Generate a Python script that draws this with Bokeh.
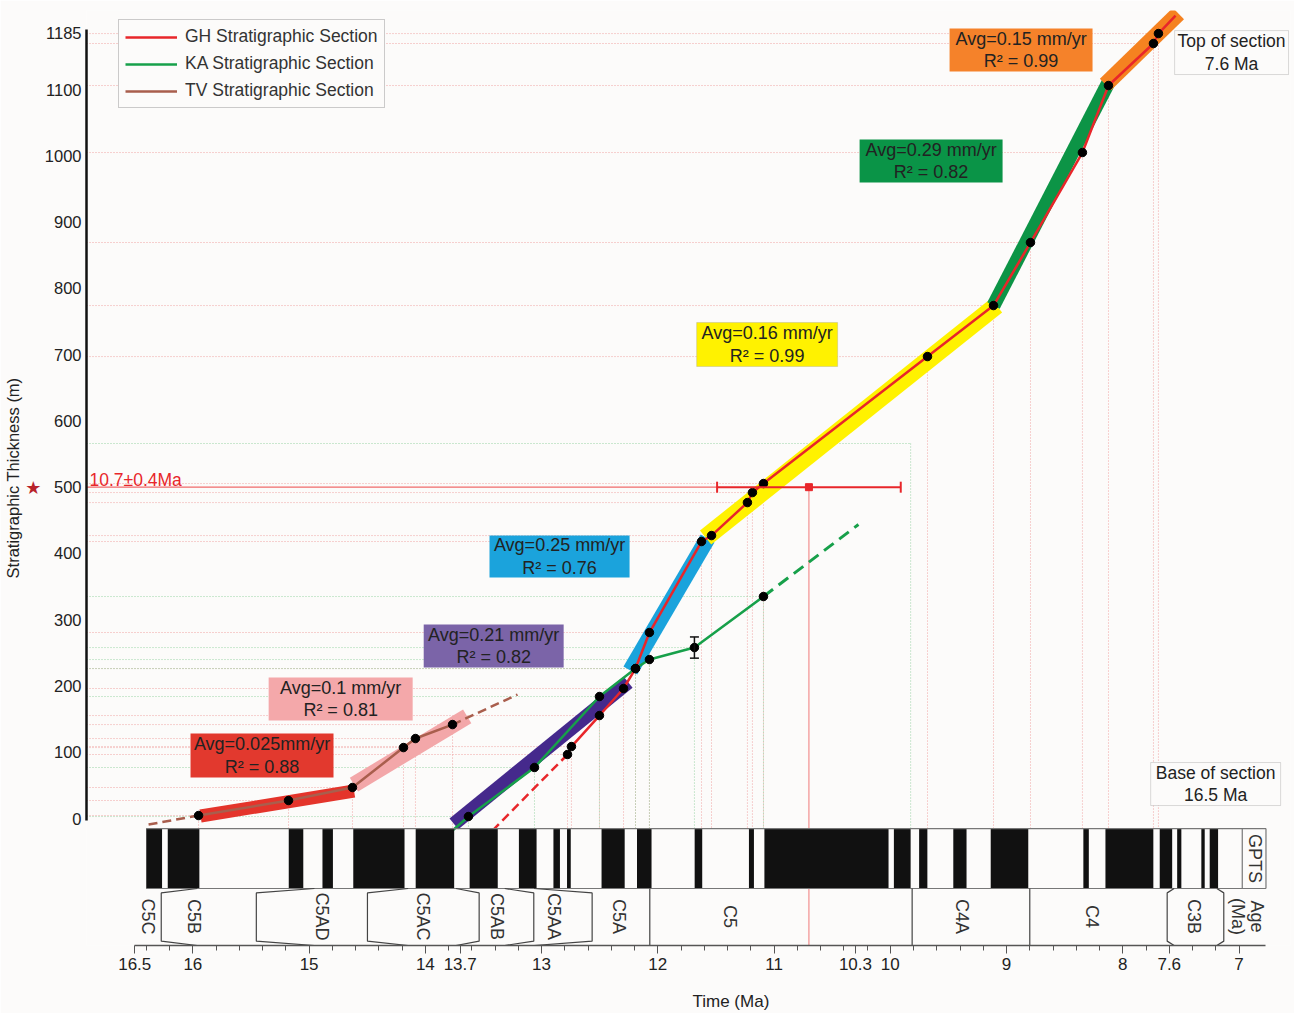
import math
from bokeh.plotting import figure
from bokeh.models import (Range1d, FixedTicker, Label, BoxAnnotation, Legend, LegendItem,
                          LinearAxis, Title)
from bokeh.embed import file_html
from bokeh.resources import INLINE

# ---------------- data (age in Ma, thickness in m) ----------------
gh_age = [12.777, 12.743, 12.502, 12.295, 12.192, 12.072, 11.624, 11.538, 11.229, 11.186,
          11.091, 9.680, 9.112, 8.794, 8.347, 8.123, 7.736, 7.693]
gh_thk = [96.6, 108.6, 155.4, 196.2, 226.3, 280.7, 418.0, 427.0, 476.8, 491.9,
          505.5, 697.1, 774.1, 869.2, 1005.0, 1106.1, 1169.5, 1184.5]
gh_base_age, gh_base_thk = 13.422, -18.1      # dashed projection below
gh_top_age, gh_top_thk = 7.546, 1211.7        # line end above top point

ka_age = [13.629, 13.061, 12.502, 12.192, 12.072, 11.685, 11.091]
ka_thk = [3.0, 77.0, 184.1, 226.3, 239.9, 258.0, 335.0]
ka_err_age, ka_err_thk, ka_err = 11.685, 258.0, 16.0
ka_base_age, ka_base_thk = 13.766, -18.1
ka_proj_age, ka_proj_thk = 10.274, 443.6       # dashed projection
ka_guide_age, ka_guide_thk = 9.825, 565.9      # projected top guide

tv_age = [15.951, 15.177, 14.627, 14.188, 14.085, 13.766]
tv_thk = [4.5, 27.2, 46.8, 107.1, 120.7, 141.8]
tv_base_age, tv_base_thk = 16.381, -9.1
tv_proj_age, tv_proj_thk = 13.207, 187.1

sample_age, sample_thk = 10.7, 500.0
sample_old, sample_young = 11.49, 9.91

# regression bands
band_age0 = [15.934, 14.614, 13.754, 12.236, 11.589, 9.112, 8.149]
band_thk0 = [3.8, 51.3, -8.0, 223.3, 424.0, 774.1, 1107.6]
band_age1 = [14.613, 13.640, 12.255, 11.572, 9.086, 8.123, 7.521]
band_thk1 = [41.5, 154.0, 205.7, 422.5, 774.1, 1110.6, 1214.7]
band_rate = ["Avg=0.025mm/yr", "Avg=0.1 mm/yr", "Avg=0.21 mm/yr", "Avg=0.25 mm/yr",
             "Avg=0.16 mm/yr", "Avg=0.29 mm/yr", "Avg=0.15 mm/yr"]
band_r2 = ["R\u00b2 = 0.88", "R\u00b2 = 0.81", "R\u00b2 = 0.82", "R\u00b2 = 0.76",
           "R\u00b2 = 0.99", "R\u00b2 = 0.82", "R\u00b2 = 0.99"]

# GPTS normal-polarity (black) intervals
pol_old = [16.401, 16.216, 15.175, 14.885, 14.620, 14.083, 13.619, 13.195, 12.898, 12.781,
           12.484, 12.179, 11.683, 11.216, 11.083, 9.969, 9.752, 9.458, 9.136, 8.339,
           8.149, 7.682, 7.532, 7.324, 7.252]
pol_young = [16.265, 15.944, 15.050, 14.795, 14.179, 13.752, 13.377, 13.043, 12.842, 12.749,
             12.285, 12.054, 11.618, 11.173, 10.015, 9.825, 9.681, 9.344, 8.813, 8.292,
             7.737, 7.575, 7.496, 7.295, 7.180]
gpts_old, gpts_young, gpts_cell = 16.401, 6.972, 6.768

chron_names = ["C5C", "C5B", "C5AD", "C5AC", "C5AB", "C5AA", "C5A", "C5", "C4A", "C4", "C3B"]
chron_label_age = [16.390, 15.994, 14.893, 14.024, 13.382, 12.895, 12.336, 11.375, 9.382, 8.263, 7.389]
chron_bound_age = [16.272, 15.454, 14.498, 13.537, 13.067, 12.565, 12.069, 9.812, 8.800, 7.618, 7.131]
chron_notch = [-1, -1, -1, 1, 1, 1, 0, 0, 0, -1, 1]
chron_notch_len = [0.31, 0.5, 0.35, 0.2, 0.25, 0.5, 0, 0, 0, 0.06, 0.06]

x_major = [16.5, 16, 15, 14, 13.7, 13, 12, 11, 10.3, 10, 9, 8, 7.6, 7]
y_major = [0, 100, 200, 300, 400, 500, 600, 700, 800, 900, 1000, 1100, 1185]

# ---------------- styles ----------------
BG = "#fcfbfa"
FONT = "Liberation Sans"
GH_C = "#e8262a"
KA_C = "#17a04a"
TV_C = "#a95e4d"
band_colors = ["#e4342b", "#f3a7a9", "#45298c", "#1aa3dc", "#fff200", "#0c9446", "#f58220"]
band_widths = [13, 16, 14, 16, 18, 14, 16]
box_colors = ["#e2392e", "#f4a8aa", "#7b64a8", "#1ba3dc", "#fff200", "#0a9447", "#f5822a"]

X0, X1 = 16.915, 6.557
Y0, Y1 = -191.6, 1219.3
GP_TOP, GP_BOT = -15.1, -105.6

p = figure(frame_width=1204, frame_height=935, x_range=Range1d(X0, X1), y_range=Range1d(Y0, Y1),
           output_backend="svg", toolbar_location=None, title=None,
           min_border_left=86, min_border_right=4, min_border_top=10, min_border_bottom=68,
           background_fill_color=BG, border_fill_color=BG)
p.outline_line_color = None
p.xgrid.visible = False
p.ygrid.visible = False

# axes
p.xaxis.ticker = FixedTicker(ticks=x_major,
                             minor_ticks=[round(7 + 0.2 * i, 2) for i in range(48)])
p.xaxis.major_label_overrides = {t: (str(t)) for t in x_major}
p.xaxis.bounds = (6.768, 16.5)
p.xaxis.axis_line_color = "#555"
p.xaxis.axis_line_width = 1.5
p.xaxis.major_tick_line_color = "#555"
p.xaxis.minor_tick_line_color = "#555"
p.xaxis.major_tick_in = 0
p.xaxis.major_tick_out = 8
p.xaxis.minor_tick_in = 0
p.xaxis.minor_tick_out = 5
p.xaxis.major_label_standoff = 4
p.xaxis.major_label_text_font = FONT
p.xaxis.major_label_text_font_size = "17px"
p.xaxis.major_label_text_color = "#222"

p.yaxis.ticker = FixedTicker(ticks=y_major)
p.yaxis.bounds = (-3, 1190)
p.yaxis.axis_line_color = "#111"
p.yaxis.axis_line_width = 2.5
p.yaxis.major_tick_line_color = None
p.yaxis.minor_tick_line_color = None
p.yaxis.major_tick_out = 0
p.yaxis.major_tick_in = 0
p.yaxis.minor_tick_out = 0
p.yaxis.minor_tick_in = 0
p.yaxis.major_label_standoff = 5
p.yaxis.major_label_text_font = FONT
p.yaxis.major_label_text_font_size = "16.5px"
p.yaxis.major_label_text_color = "#222"

# star marking the dated level (outer tick label) + the y-axis title
star_axis = LinearAxis(ticker=FixedTicker(ticks=[sample_thk]), bounds=(499, 895),
                       axis_line_color=None, major_tick_line_color=None, minor_tick_line_color=None,
                       major_tick_out=0, major_tick_in=0, minor_tick_out=0, minor_tick_in=0,
                       major_label_overrides={int(sample_thk): "\u2605"},
                       major_label_text_color="#b8232b", major_label_text_font="DejaVu Sans",
                       major_label_text_font_size="18px", major_label_standoff=0,
                       axis_label="Stratigraphic Thickness (m)", axis_label_standoff=0,
                       axis_label_text_font=FONT, axis_label_text_font_size="16.5px",
                       axis_label_text_font_style="normal", axis_label_text_color="#222")
p.add_layout(star_axis, "left")

# x-axis title
p.add_layout(Title(text="Time (Ma)", align="left", offset=606,
                   text_font=FONT, text_font_size="17px", text_font_style="normal",
                   text_color="#222", standoff=35), "below")

# ---------------- guide lines ----------------
def guides(ages, thks):
    xs, ys = [], []
    for a, t in zip(ages, thks):
        xs.append([X0, a]); ys.append([t, t])
        xs.append([a, a]); ys.append([t, GP_TOP])
    return xs, ys

gx, gy = guides(gh_age + tv_age, gh_thk + tv_thk)
p.multi_line(gx, gy, line_color="#f09a9a", line_width=1, line_dash="1 2", line_alpha=0.9)
kx, ky = guides(ka_age + [ka_guide_age], ka_thk + [ka_guide_thk])
p.multi_line(kx, ky, line_color="#8fcf9c", line_width=1, line_dash="1 2", line_alpha=0.9)

# dated sample guide lines
p.line([X0, sample_old], [sample_thk, sample_thk], line_color="#f06a6a", line_width=1.3)
p.line([sample_age, sample_age], [sample_thk, Y0], line_color="#f07a7a", line_width=1)

# ---------------- regression bands ----------------
for a0, t0, a1, t1, c, w in zip(band_age0, band_thk0, band_age1, band_thk1, band_colors, band_widths):
    p.line([a0, a1], [t0, t1], line_color=c, line_width=w, line_cap="butt")

# ---------------- section lines ----------------
r_tv = p.line(tv_age, tv_thk, line_color=TV_C, line_width=2.5)
p.line([tv_base_age, tv_age[0]], [tv_base_thk, tv_thk[0]], line_color=TV_C, line_width=2.5, line_dash="9 5")
p.line([tv_age[-1], tv_proj_age], [tv_thk[-1], tv_proj_thk], line_color=TV_C, line_width=2.5, line_dash="9 5")

r_ka = p.line([ka_base_age] + ka_age, [ka_base_thk] + ka_thk, line_color=KA_C, line_width=2.5)
p.line([ka_age[-1], ka_proj_age], [ka_thk[-1], ka_proj_thk], line_color=KA_C, line_width=3, line_dash="12 7")

r_gh = p.line(gh_age + [gh_top_age], gh_thk + [gh_top_thk], line_color=GH_C, line_width=2.5)
p.line([gh_base_age, gh_age[0]], [gh_base_thk, gh_thk[0]], line_color=GH_C, line_width=2.5, line_dash="9 5")

# points
p.scatter(gh_age + ka_age + tv_age, gh_thk + ka_thk + tv_thk, size=8.5, color="black")

# KA error bar
p.segment([ka_err_age], [ka_err_thk - ka_err], [ka_err_age], [ka_err_thk + ka_err], line_color="#111", line_width=1.5)
p.scatter([ka_err_age, ka_err_age], [ka_err_thk - ka_err, ka_err_thk + ka_err], marker="dash", size=9,
          line_color="#111", line_width=1.5)

# dated sample error bar
p.line([sample_old, sample_young], [sample_thk, sample_thk], line_color=GH_C, line_width=2)
p.scatter([sample_old, sample_young], [sample_thk, sample_thk], marker="dash", angle=math.pi / 2, size=11,
          line_color=GH_C, line_width=2)
p.scatter([sample_age], [sample_thk], marker="square", size=7, color=GH_C)

# ---------------- GPTS ----------------
p.quad(left=pol_old, right=pol_young, top=GP_TOP, bottom=GP_BOT, fill_color="#111", line_color=None)
p.multi_line([[gpts_old, gpts_cell], [gpts_old, gpts_cell], [gpts_young, gpts_young], [gpts_cell, gpts_cell]],
             [[GP_TOP, GP_TOP], [GP_BOT, GP_BOT], [GP_TOP, GP_BOT], [GP_TOP, GP_BOT]],
             line_color="#777", line_width=1.2)

cxs, cys = [], []
dy = 6.6
for a, d, L in zip(chron_bound_age, chron_notch, chron_notch_len):
    if d == 0:
        cxs.append([a, a]); cys.append([GP_BOT, Y0])
    else:
        cxs.append([a + d * L, a, a, a + d * L]); cys.append([GP_BOT, GP_BOT - dy, Y0 + dy, Y0])
p.multi_line(cxs, cys, line_color="#444", line_width=1.2)

for n, a in zip(chron_names, chron_label_age):
    p.add_layout(Label(x=a, y=-147.9, text=n, angle=-math.pi / 2, text_align="center",
                       text_baseline="middle", text_font=FONT, text_font_size="18px", text_color="#333"))
p.add_layout(Label(x=6.866, y=-60.4, text="GPTS", angle=-math.pi / 2, text_align="center",
                   text_baseline="middle", text_font=FONT, text_font_size="18px", text_color="#333"))
p.add_layout(Label(x=6.930, y=-147.9, text="Age\n(Ma)", angle=-math.pi / 2, text_align="center",
                   text_baseline="middle", text_font=FONT, text_font_size="18px", text_color="#333",
                   text_line_height=0.95))

# ---------------- annotation boxes ----------------
box_l = [16.020, 15.348, 14.014, 13.448, 11.666, 10.264, 9.490]
box_r = [14.790, 14.109, 12.810, 12.243, 10.453, 9.034, 8.260]
box_t = [128.3, 212.8, 292.7, 427.0, 748.5, 1024.6, 1192.1]
box_b = [61.9, 147.9, 227.9, 363.7, 682.1, 959.7, 1127.2]
for i in range(7):
    lc = "#999" if i == 4 else None
    p.add_layout(BoxAnnotation(left=box_l[i], right=box_r[i], top=box_t[i], bottom=box_b[i],
                               fill_color=box_colors[i], fill_alpha=1, line_color=lc, line_width=1))
    p.add_layout(Label(x=(box_l[i] + box_r[i]) / 2, y=(box_t[i] + box_b[i]) / 2,
                       text=band_rate[i] + "\n" + band_r2[i], text_align="center", text_baseline="middle",
                       text_font=FONT, text_font_size="18px", text_color="#222", text_line_height=1.12))

for (l, r, t, b, txt) in [(7.554, 6.574, 1189.0, 1122.7, "Top of section\n7.6 Ma"),
                          (7.760, 6.642, 84.5, 19.6, "Base of section\n16.5 Ma")]:
    p.add_layout(BoxAnnotation(left=l, right=r, top=t, bottom=b, fill_color=BG, fill_alpha=1,
                               line_color="#888", line_width=1))
    p.add_layout(Label(x=(l + r) / 2, y=(t + b) / 2, text=txt, text_align="center", text_baseline="middle",
                       text_font=FONT, text_font_size="17.5px", text_color="#222", text_line_height=1.12))

# dated sample label
p.add_layout(Label(x=16.889, y=511, text="10.7\u00b10.4Ma", text_align="left", text_baseline="middle",
                   text_font=FONT, text_font_size="17.5px", text_color=GH_C))

# legend
legend = Legend(items=[LegendItem(label="GH Stratigraphic Section", renderers=[r_gh]),
                       LegendItem(label="KA Stratigraphic Section", renderers=[r_ka]),
                       LegendItem(label="TV Stratigraphic Section", renderers=[r_tv])],
                location=(32, 837), orientation="vertical",
                label_text_font=FONT, label_text_font_size="17.5px", label_text_color="#333",
                glyph_width=52, glyph_height=20, label_height=20, spacing=6, padding=6, margin=0,
                label_standoff=8, border_line_color="#999", background_fill_color=BG,
                background_fill_alpha=1)
p.add_layout(legend)

open("out.html", "w").write(file_html(p, INLINE))
